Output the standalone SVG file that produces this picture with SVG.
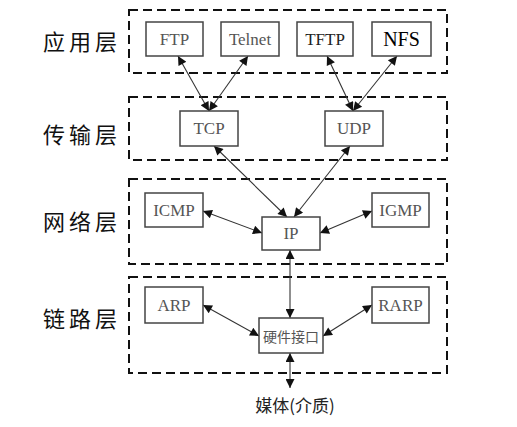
<svg xmlns="http://www.w3.org/2000/svg" width="517" height="427" viewBox="0 0 517 427">
<defs>
<marker id="ah" viewBox="0 0 10 10" refX="10" refY="5" markerWidth="12" markerHeight="9" markerUnits="userSpaceOnUse" orient="auto-start-reverse">
<path d="M0,0 L10,5 L0,10 z" fill="#111"/>
</marker>
<style>
.layer{fill:none;stroke:#111;stroke-width:2;stroke-dasharray:9,5}
.box{fill:#fff;stroke:#444;stroke-width:1.5}
.t{font-family:"Liberation Serif","Noto Sans CJK SC",serif;font-size:17px;fill:#555;text-anchor:middle;dominant-baseline:central}
.lbl{font-family:"Noto Sans CJK SC",sans-serif;font-size:22px;fill:#111;text-anchor:middle;dominant-baseline:central;letter-spacing:4px}
.c{stroke:#333;stroke-width:1.1;fill:none;marker-start:url(#ah);marker-end:url(#ah)}
</style>
</defs>
<rect width="517" height="427" fill="#fff"/>
<g id="layers">
<rect class="layer" x="129" y="10" width="318" height="63"/>
<rect class="layer" x="129" y="97" width="318" height="63"/>
<rect class="layer" x="129" y="179" width="318" height="85"/>
<rect class="layer" x="129" y="277" width="318" height="96"/>
</g>
<g id="layer-labels">
<text class="lbl" x="82" y="40">应用层</text>
<text class="lbl" x="82" y="133">传输层</text>
<text class="lbl" x="82" y="220">网络层</text>
<text class="lbl" x="82" y="317">链路层</text>
</g>
<g id="connectors">
<line class="c" x1="178" y1="56" x2="209" y2="111"/>
<line class="c" x1="248" y1="56" x2="209" y2="111"/>
<line class="c" x1="327" y1="56" x2="353" y2="111"/>
<line class="c" x1="397" y1="56" x2="353" y2="111"/>
<line class="c" x1="214" y1="146" x2="287" y2="217"/>
<line class="c" x1="350" y1="146" x2="294" y2="217"/>
<line class="c" x1="203" y1="211" x2="262" y2="233"/>
<line class="c" x1="372" y1="211" x2="320" y2="233"/>
<line class="c" x1="290" y1="250" x2="290" y2="318"/>
<line class="c" x1="203" y1="305" x2="259" y2="336"/>
<line class="c" x1="372" y1="305" x2="323" y2="336"/>
<line class="c" x1="290" y1="353" x2="290" y2="388"/>
</g>
<g id="FTP"><rect class="box" x="146" y="22" width="57" height="34"/><text class="t" x="174.5" y="39">FTP</text></g>
<g id="Telnet"><rect class="box" x="221" y="22" width="58" height="34"/><text class="t" x="250" y="39">Telnet</text></g>
<g id="TFTP"><rect class="box" x="297" y="22" width="56" height="34"/><text class="t" x="325" y="39" style="fill:#222">TFTP</text></g>
<g id="NFS"><rect class="box" x="372" y="22" width="59" height="34"/><text class="t" x="401.5" y="39" style="fill:#000;font-size:20px">NFS</text></g>
<g id="TCP"><rect class="box" x="180" y="111" width="58" height="35"/><text class="t" x="209" y="128.5">TCP</text></g>
<g id="UDP"><rect class="box" x="325" y="111" width="58" height="35"/><text class="t" x="354" y="128.5">UDP</text></g>
<g id="ICMP"><rect class="box" x="145" y="193" width="58" height="34"/><text class="t" x="174" y="210">ICMP</text></g>
<g id="IP"><rect class="box" x="262" y="217" width="58" height="33"/><text class="t" x="291" y="233.5">IP</text></g>
<g id="IGMP"><rect class="box" x="372" y="193" width="57" height="34"/><text class="t" x="400.5" y="210">IGMP</text></g>
<g id="ARP"><rect class="box" x="145" y="287" width="58" height="36"/><text class="t" x="174" y="305">ARP</text></g>
<g id="hw"><rect class="box" x="259" y="318" width="64" height="35"/><text class="t" x="291" y="335.5" style="font-size:14px;font-family:'Noto Sans CJK SC',sans-serif">硬件接口</text></g>
<g id="RARP"><rect class="box" x="372" y="287" width="57" height="36"/><text class="t" x="400.5" y="305">RARP</text></g>
<g id="media"><text x="295" y="404" style="font-family:'Noto Sans CJK SC',sans-serif;font-size:17px;fill:#222;text-anchor:middle;dominant-baseline:central">媒体(介质)</text></g>
</svg>
